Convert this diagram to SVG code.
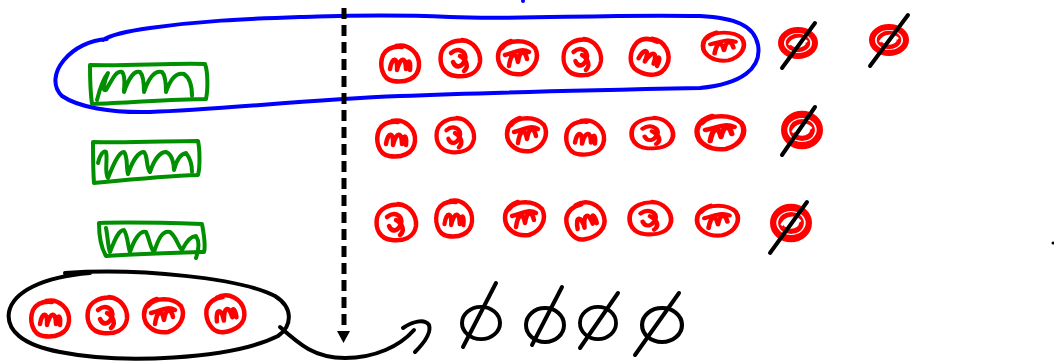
<svg xmlns="http://www.w3.org/2000/svg" xmlns:xlink="http://www.w3.org/1999/xlink" width="1054" height="363" viewBox="0 0 1054 363">
<style>
.r{fill:none;stroke:#f00;stroke-width:4.5;stroke-linecap:round;stroke-linejoin:round}
.rx{fill:none;stroke:#f00;stroke-width:6;stroke-linecap:round}
.g{fill:none;stroke:#008f00;stroke-width:4;stroke-linecap:round;stroke-linejoin:round}
.b{fill:none;stroke:#00f;stroke-width:4;stroke-linecap:round}
.k{fill:none;stroke:#000;stroke-width:4;stroke-linecap:round;stroke-linejoin:round}
.d{fill:none;stroke:#000;stroke-width:5;stroke-dasharray:11 6}
</style>
<defs>
<g id="scA"><path class="r" d="M-4,-17 C9,-20 20,-9 19,3 C18,16 5,20 -7,18 C-18,16 -21,2 -17,-8 C-13,-15 -7,-17 2,-16"/><path class="r" d="M-10,6 C-8,-7 -2,-6 -3,7 C0,-6 6,-7 6,6 C8,-5 11,-3 10,7"/></g>
<g id="scB"><path class="r" d="M2,-18 C13,-17 21,-7 20,4 C18,16 7,19 -4,18 C-16,17 -21,7 -19,-4 C-17,-13 -7,-19 7,-17"/><path class="r" d="M-9,-5 C-2,-11 7,-7 5,2 C2,9 -4,11 -7,4 M0,-2 C7,2 9,9 4,13"/></g>
<g id="scC"><path class="r" d="M-16,-9 C-9,-18 9,-18 17,-9 C22,0 17,13 4,17 C-9,19 -20,11 -20,0 C-20,-7 -16,-13 -7,-16"/><path class="r" d="M-9,9 C-7,-4 -2,-7 0,5 C2,-7 7,-7 9,2 M-13,-2 C-2,-5 4,-9 11,-5"/></g>
<g id="scX"><ellipse class="rx" cx="0" cy="0" rx="17" ry="13"/><ellipse class="r" cx="0" cy="0" rx="10" ry="7"/><path d="M-9,2 C-5,-5 4,-6 9,-1" stroke="#fff" stroke-width="2.5" fill="none"/></g>
<g id="phi"><ellipse class="k" cx="0" cy="0" rx="19" ry="17"/></g>
</defs>

<g id="marks"><circle cx="523" cy="1" r="2" fill="#00f"/><circle cx="1053" cy="243" r="1.5" fill="#000"/></g>

<g id="blue-loop"><path class="b" d="M107,39 C90,40 74,48 64,60 C54,72 52,86 62,96 C78,107 110,113 150,112 C220,110 300,100 400,96 C500,92 600,90 700,88 C742,84 762,68 758,45 C754,25 735,18 700,16 C600,14 520,20 450,17 C380,14 340,16 300,17 C240,19 200,21 150,28 C128,31 112,34 103,40"/></g>

<g id="green1"><path class="g" d="M90,65 C130,66 170,63 205,64 C208,72 208,90 206,99 C170,99 130,103 92,104 C90,90 90,76 90,65 Z"/><path class="g" d="M97,100 C100,88 104,78 108,73 C104,82 102,92 106,90 C112,80 116,70 122,72 C126,76 124,86 124,92 C128,80 134,70 140,72 C144,76 144,86 144,92 C148,80 154,70 162,72 C166,76 166,86 166,92 C170,80 176,72 184,74 C190,78 192,88 192,96"/></g>
<g id="green2"><path class="g" d="M93,142 C130,143 170,141 198,141 C200,150 200,168 198,175 C165,176 125,180 94,183 C93,170 93,155 93,142 Z"/><path class="g" d="M98,163 C100,154 104,150 106,152 C108,160 104,172 108,178 C112,168 118,152 124,152 C128,156 126,168 128,174 C132,162 138,152 144,152 C148,156 146,168 150,172 C154,160 160,152 166,152 C172,154 174,164 174,170 C176,162 180,154 186,153 C190,158 192,166 192,172"/></g>
<g id="green3"><path class="g" d="M99,223 C130,222 170,223 202,224 C204,235 206,245 204,252 C170,253 135,254 106,256 C100,246 99,232 99,223 Z"/><path class="g" d="M106,228 C108,238 108,248 110,252 C114,242 118,230 124,230 C128,236 128,248 130,252 C134,240 140,230 146,232 C150,240 150,248 154,252 C158,240 162,230 170,232 C176,236 178,246 182,250 C186,242 190,236 196,236 C200,242 198,252 196,258"/></g>

<g id="connectors">
<path class="d" d="M344,8 L344,334"/>
<path d="M337,331 L350,331 L343.5,343 Z" fill="#000"/>
<path class="k" d="M280,327 C300,345 315,358 345,358 C375,358 400,346 414,330"/>
<path class="k" d="M403,328 C412,322 424,318 429,325 C432,334 422,345 415,352"/>
</g>

<g id="row1">
<use xlink:href="#scA" transform="translate(400,63)"/>
<use xlink:href="#scB" transform="translate(460,58)"/>
<use xlink:href="#scC" transform="translate(518,57)"/>
<use xlink:href="#scB" transform="translate(582,57) scale(0.95,1)"/>
<use xlink:href="#scA" transform="translate(650,56) rotate(20)"/>
<use xlink:href="#scC" transform="translate(724,46) scale(1.05,0.85)"/>
<g id="r1x1"><use xlink:href="#scX" transform="translate(798,43)"/><path class="k" d="M782,68 L815,23"/></g>
<g id="r1x2"><use xlink:href="#scX" transform="translate(889,40)"/><path class="k" d="M870,66 L908,15"/></g>
</g>

<g id="row2">
<use xlink:href="#scA" transform="translate(396,138)"/>
<use xlink:href="#scB" transform="translate(455,135) scale(0.95,0.95)"/>
<use xlink:href="#scC" transform="translate(527,134)"/>
<use xlink:href="#scA" transform="translate(585,137) scale(1,0.95)"/>
<use xlink:href="#scB" transform="translate(652,133) scale(1.05,0.85)"/>
<use xlink:href="#scC" transform="translate(721,132) scale(1.2,1)"/>
<g id="r2x1"><use xlink:href="#scX" transform="translate(802,130) scale(1.05,1.2)"/><path class="k" d="M782,155 L815,107"/></g>
</g>

<g id="row3">
<use xlink:href="#scB" transform="translate(396,222)"/>
<use xlink:href="#scA" transform="translate(454,218) scale(0.95,1)"/>
<use xlink:href="#scC" transform="translate(525,218)"/>
<use xlink:href="#scA" transform="translate(585,220) rotate(-20)"/>
<use xlink:href="#scB" transform="translate(650,218) scale(1.05,0.9)"/>
<use xlink:href="#scC" transform="translate(718,220) scale(1.05,0.9)"/>
<g id="r3x1"><use xlink:href="#scX" transform="translate(791,223) scale(1.05,1.2)"/><path class="k" d="M770,253 L807,202"/></g>
</g>

<g id="bottom-set">
<path class="k" d="M65,273 C140,268 240,278 275,296 C294,308 292,326 278,336 C230,360 120,364 60,352 C22,345 6,330 9,312 C13,292 42,277 90,273"/>
<use xlink:href="#scA" transform="translate(50,318)"/>
<use xlink:href="#scB" transform="translate(107,315)"/>
<use xlink:href="#scC" transform="translate(164,315)"/>
<use xlink:href="#scA" transform="translate(225,313) rotate(-15)"/>
</g>

<g id="empty-sets">
<g id="e1"><use xlink:href="#phi" transform="translate(481,323) scale(1,0.95)"/><path class="k" d="M463,347 L496,283"/></g>
<g id="e2"><use xlink:href="#phi" transform="translate(545,325) scale(1,1)"/><path class="k" d="M532,345 L562,287"/></g>
<g id="e3"><use xlink:href="#phi" transform="translate(598,323) scale(0.95,0.95)"/><path class="k" d="M580,348 L618,293"/></g>
<g id="e4"><use xlink:href="#phi" transform="translate(662,325) scale(1.05,1)"/><path class="k" d="M635,355 L679,293"/></g>
</g>
</svg>
